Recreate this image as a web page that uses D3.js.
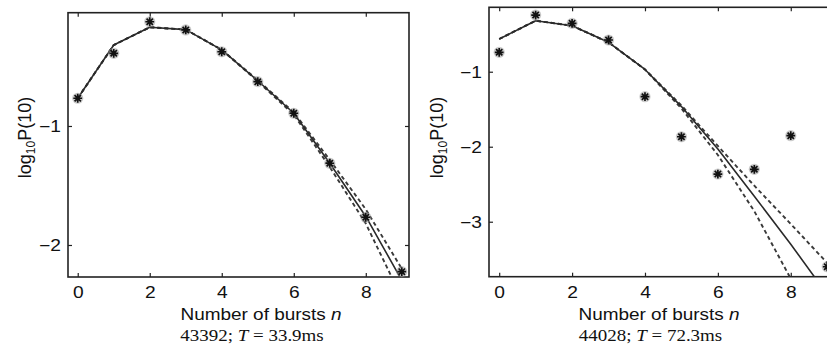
<!DOCTYPE html>
<html><head><meta charset="utf-8">
<script src="https://cdn.jsdelivr.net/npm/d3@7"></script>
<style>body{margin:0;background:#fff}svg{display:block}</style>
</head><body>
<svg id="c" width="827" height="358"></svg>
<script>
// ---- data ----
const nValues = [0,1,2,3,4,5,6,7,8,9];
const xTicks = [0,2,4,6,8];

// Panel A: 43392; T = 33.9ms
const obsA   = [-0.767,-0.389,-0.124,-0.193,-0.376,-0.628,-0.893,-1.313,-1.767,-2.224];
const fitA   = [-0.767,-0.320,-0.170,-0.190,-0.360,-0.620,-0.893,-1.313,-1.760,-2.297];
const upperA = [-0.767,-0.320,-0.170,-0.190,-0.360,-0.615,-0.885,-1.285,-1.700,-2.200];
const lowerA = [-0.767,-0.320,-0.170,-0.190,-0.360,-0.625,-0.905,-1.345,-1.820,-2.445];
const yTicksA = [-1,-2];
const captionA = ["43392; ", "T", " = 33.9ms"];

// Panel B: 44028; T = 72.3ms
const obsB   = [-0.741,-0.244,-0.355,-0.577,-1.333,-1.867,-2.364,-2.301,-1.853,-3.600];
const fitB   = [-0.564,-0.320,-0.387,-0.608,-0.970,-1.465,-2.030,-2.660,-3.300,-3.970];
const upperB = [-0.564,-0.320,-0.387,-0.608,-0.970,-1.450,-1.990,-2.520,-3.030,-3.550];
const lowerB = [-0.564,-0.320,-0.387,-0.608,-0.970,-1.490,-2.110,-2.860,-3.760];
const yTicksB = [-1,-2,-3];
const captionB = ["44028; ", "T", " = 72.3ms"];

const xLabel = "Number of bursts ";
const xLabelVar = "n";

// ---- layout ----
const SX = 1.2; // horizontal stretch of text seen in the reference
const panels = [
  {obs:obsA, fit:fitA, up:upperA, lo:lowerA, yTicks:yTicksA, caption:captionA,
   left:68, right:409, top:12.7, bottom:277, xDom:[-0.27,9.2], yDom:[-2.269,-0.048],
   yLabX:25, xLabX:261, capX:252},
  {obs:obsB, fit:fitB, up:upperB, lo:lowerB, yTicks:yTicksB, caption:captionB,
   left:489, right:834.5, top:7.3, bottom:276.7, xDom:[-0.28,9.2], yDom:[-3.733,-0.141],
   yLabX:437, xLabX:659, capX:650.5}
];

const svg = d3.select("#c");
const sans = "'Liberation Sans', Arial, Helvetica, sans-serif";
const serif = "'Liberation Serif', 'Times New Roman', serif";

panels.forEach((p, i) => {
  const x = d3.scaleLinear().domain(p.xDom).range([p.left, p.right]);
  const y = d3.scaleLinear().domain(p.yDom).range([p.bottom, p.top]);
  const g = svg.append("g");

  const clipId = "clip" + i;
  svg.append("clipPath").attr("id", clipId).append("rect")
    .attr("x", p.left).attr("y", p.top)
    .attr("width", p.right - p.left).attr("height", p.bottom - p.top);

  // axes
  const axB = g.append("g").attr("transform", `translate(0,${p.bottom})`)
    .call(d3.axisBottom(x).tickValues(xTicks).tickSize(-4).tickPadding(10).tickFormat(d3.format("d")));
  const axT = g.append("g").attr("transform", `translate(0,${p.top})`)
    .call(d3.axisTop(x).tickValues(xTicks).tickSize(-4).tickFormat(""));
  const axL = g.append("g").attr("transform", `translate(${p.left},0)`)
    .call(d3.axisLeft(y).tickValues(p.yTicks).tickSize(-4).tickPadding(7).tickFormat(d3.format("d")));
  const axR = g.append("g").attr("transform", `translate(${p.right},0)`)
    .call(d3.axisRight(y).tickValues(p.yTicks).tickSize(-4).tickFormat(""));
  [axB, axT, axL, axR].forEach(a => {
    a.select(".domain").remove();
    a.selectAll(".tick line").attr("stroke", "#222").attr("stroke-width", 1.2);
    a.selectAll("text").attr("font-family", sans).attr("font-size", 16).attr("fill", "#111");
  });
  axB.selectAll(".tick text").attr("transform", `scale(${SX},1)`).attr("dy", "0.68em");
  axL.selectAll(".tick text").attr("x", -7 / SX).attr("dy", "0.36em").attr("transform", `scale(${SX},1)`);

  // box
  g.append("rect").attr("x", p.left).attr("y", p.top)
    .attr("width", p.right - p.left).attr("height", p.bottom - p.top)
    .attr("fill", "none").attr("stroke", "#222").attr("stroke-width", 1.6);

  // lines
  const line = d3.line().x((d, j) => x(nValues[j])).y(d => y(d));
  const lg = g.append("g").attr("clip-path", `url(#${clipId})`);
  [p.up, p.lo].forEach(arr => {
    lg.append("path").datum(arr).attr("d", line)
      .attr("fill", "none").attr("stroke", "#3a3a3a").attr("stroke-width", 1.9)
      .attr("stroke-dasharray", "4,3").attr("stroke-linejoin", "round");
  });
  lg.append("path").datum(p.fit).attr("d", line)
    .attr("fill", "none").attr("stroke", "#2a2a2a").attr("stroke-width", 1.6)
    .attr("stroke-linejoin", "round");

  // markers (asterisks)
  const mg = g.append("g");
  const r = 4.4;
  p.obs.forEach((v, j) => {
    const cx = x(nValues[j]), cy = y(v);
    mg.append("circle").attr("cx", cx).attr("cy", cy).attr("r", 5.6)
      .attr("fill", "#9a9a9a").attr("opacity", 0.5);
    const d = `M${cx - r},${cy}L${cx + r},${cy}M${cx},${cy - r}L${cx},${cy + r}` +
      `M${cx - r * 0.72},${cy - r * 0.72}L${cx + r * 0.72},${cy + r * 0.72}` +
      `M${cx - r * 0.72},${cy + r * 0.72}L${cx + r * 0.72},${cy - r * 0.72}`;
    mg.append("path").attr("d", d).attr("stroke", "#111").attr("stroke-width", 1.7).attr("fill", "none");
  });

  // y label
  const yl = g.append("text")
    .attr("transform", `translate(${p.yLabX},137.5) rotate(-90)`)
    .attr("text-anchor", "middle").attr("dy", "0.35em")
    .attr("font-family", sans).attr("font-size", 18).attr("fill", "#111");
  yl.append("tspan").text("log");
  yl.append("tspan").text("10").attr("font-size", 12).attr("dy", 4);
  yl.append("tspan").text("P(10)").attr("dy", -4);

  // x label
  const xl = g.append("text")
    .attr("transform", `translate(${p.xLabX},319.5) scale(${SX},1)`)
    .attr("text-anchor", "middle")
    .attr("font-family", sans).attr("font-size", 15.8).attr("fill", "#111");
  xl.append("tspan").text(xLabel);
  xl.append("tspan").text(xLabelVar).attr("font-style", "italic");

  // caption
  const cp = g.append("text")
    .attr("transform", `translate(${p.capX},341) scale(1.15,1)`)
    .attr("text-anchor", "middle")
    .attr("font-family", serif).attr("font-size", 16.5).attr("fill", "#111");
  cp.append("tspan").text(p.caption[0]);
  cp.append("tspan").text(p.caption[1]).attr("font-style", "italic");
  cp.append("tspan").text(p.caption[2]);
});
</script>
</body></html>
